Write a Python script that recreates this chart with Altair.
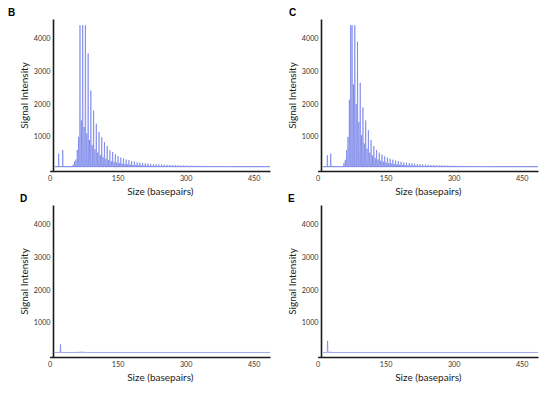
import altair as alt
import pandas as pd

# ---------------- data ----------------
# Panel B
B_LIGHT_POS = [20, 29, 55, 61, 67, 73, 79, 85, 91, 97, 103, 109, 115, 121, 127, 133, 139, 145, 151, 157,
               163, 169, 175, 181, 187, 193, 199, 205, 211, 217, 223, 229, 235, 241, 247, 253, 259, 265,
               271, 277, 283, 289, 295, 301, 307, 313, 319, 325, 331, 337, 343, 349, 355, 361, 367, 373,
               379, 385, 391, 397]
B_LIGHT_H = [490, 600, 250, 600, 4400, 4400, 4400, 3540, 2410, 1800, 1400, 1150, 990, 840, 720, 590,
             540, 470, 410, 370, 340, 310, 290, 265, 245, 225, 215, 205, 195, 185, 178, 170, 165, 160,
             155, 150, 146, 143, 140, 137, 134, 131, 128, 126, 124, 122, 120, 118, 116, 114, 112, 110,
             109, 108, 107, 106, 105, 104, 103, 102]
B_DARK_POS = [52, 58, 64, 70, 76, 82, 88, 94, 100, 106, 112, 118, 124, 130, 136, 142, 148, 154, 160,
              166, 172, 178, 184, 190, 196, 202, 208, 214, 220, 226, 232, 238, 244, 250, 256, 262, 268,
              274, 280, 286, 292, 298, 304, 310, 316, 322, 328, 334, 340, 346]
B_DARK_H = [150, 310, 1000, 1500, 1300, 1100, 900, 750, 620, 520, 440, 380, 330, 290, 260, 235, 215,
            198, 183, 170, 160, 152, 145, 139, 133, 128, 124, 120, 117, 114, 112, 110, 108, 106, 104,
            103, 102, 101, 100, 99, 99, 98, 98, 97, 97, 96, 96, 95, 95, 94]

# Panel C
C_LIGHT_POS = [21.5, 29, 58, 64, 70, 76, 82, 88, 94, 100, 106, 112, 118, 124, 130, 136, 142, 148, 154,
               160, 166, 172, 178, 184, 190, 196, 202, 208, 214, 220, 226, 232, 238, 244, 250, 256, 262,
               268, 274, 280, 286, 292, 298, 304, 310, 316, 322, 328, 334, 340, 346, 352, 358, 364, 370,
               376, 382]
C_LIGHT_H = [440, 490, 200, 600, 2130, 4400, 4400, 3900, 2650, 1900, 1500, 1200, 900, 720, 600, 520,
             460, 410, 370, 335, 305, 280, 260, 240, 225, 212, 200, 190, 180, 172, 165, 158, 153, 148,
             143, 139, 135, 132, 129, 126, 124, 122, 120, 118, 116, 114, 112, 110, 109, 108, 107, 106,
             105, 104, 103, 102, 101]
C_DARK_POS = [61, 67, 73, 79, 85, 91, 97, 103, 109, 115, 121, 127, 133, 139, 145, 151, 157, 163, 169,
              175, 181, 187, 193, 199, 205, 211, 217, 223, 229, 235, 241, 247, 253, 259, 265, 271]
C_DARK_H = [300, 1000, 4400, 2600, 2000, 1450, 1050, 800, 640, 520, 430, 360, 310, 270, 240, 218, 200,
            185, 172, 162, 152, 144, 137, 131, 126, 121, 117, 114, 111, 108, 106, 104, 102, 101, 100, 99]

# Panels D and E
D_POS = [24, 63, 69, 75, 81]
D_H = [350, 120, 125, 120, 112]
E_POS = [22, 28]
E_H = [450, 125]

BASELINE = {"B": 92, "C": 92, "D": 98, "E": 98}
TRACE_START, TRACE_END = 12, 486
SATURATION = 4400

X_TICKS = [0, 150, 300, 450]
Y_TICKS = [1000, 2000, 3000, 4000]

# ---------------- build traces ----------------
def trace(pos, heights, base, hw=0.8):
    xs, ys = [TRACE_START], [base]
    for p, h in zip(pos, heights):
        h = min(h, SATURATION)
        if h >= SATURATION:
            xs += [p - hw, p - 0.2, p + 0.2, p + hw]
            ys += [base, h, h, base]
        else:
            xs += [p - hw, p, p + hw]
            ys += [base, h, base]
    xs.append(TRACE_END)
    ys.append(base)
    return pd.DataFrame({"bp": xs, "v": ys, "i": list(range(len(xs)))})


FONT = "Lato"
W, H = 217, 152
xscale = alt.Scale(domain=[0, 486], range=[-3.4, W], nice=False, zero=False)
yscale = alt.Scale(domain=[-40, 4590], nice=False, zero=False)
common_axis = dict(ticks=False, grid=False, domainColor="#1a1a1a", domainWidth=1.6,
                   labelFont=FONT, labelFontSize=7.2, labelColor="#333333",
                   titleFont=FONT, titleFontSize=10, titleFontWeight="normal", titleColor="#222222",
                   labelFlush=False, format="d")
xaxis = alt.Axis(values=X_TICKS, title="Size (basepairs)", labelPadding=3, titlePadding=5, **common_axis)
yaxis = alt.Axis(values=Y_TICKS, title="Signal Intensity", labelPadding=3, titlePadding=4, **common_axis)

MAIN = "#6573e8"     # tall ladder trace
SECOND = "#3a4cdc"   # interleaved trace
MID = "#6b78e6"


def panel(series, letter, dx):
    layers = []
    for df, color, op in series:
        layers.append(
            alt.Chart(df).mark_line(color=color, strokeWidth=0.75, opacity=op, clip=True).encode(
                x=alt.X("bp:Q", scale=xscale, axis=xaxis),
                y=alt.Y("v:Q", scale=yscale, axis=yaxis),
                order="i:Q",
            )
        )
    return alt.layer(*layers).properties(
        width=W, height=H,
        title=alt.TitleParams(letter, anchor="start", frame="group", dx=dx, offset=-7,
                              baseline="alphabetic", fontSize=10, fontWeight="bold",
                              font="Liberation Sans", color="black"),
    )


pB = panel([(trace(B_DARK_POS, B_DARK_H, BASELINE["B"]), SECOND, 0.6),
            (trace(B_LIGHT_POS, B_LIGHT_H, BASELINE["B"]), MAIN, 0.8)], "B", -45)
pC = panel([(trace(C_DARK_POS, C_DARK_H, BASELINE["C"]), SECOND, 0.6),
            (trace(C_LIGHT_POS, C_LIGHT_H, BASELINE["C"]), MAIN, 0.8)], "C", -32)
pD = panel([(trace(D_POS, D_H, BASELINE["D"]), MID, 0.85)], "D", -33)
pE = panel([(trace(E_POS, E_H, BASELINE["E"]), MID, 0.85)], "E", -33)

chart = alt.concat(pB, pC, pD, pE, columns=2, spacing=alt.RowColnumber(row=34, column=51)).properties(
    bounds="flush",
    padding={"left": 0, "top": 0, "right": 5, "bottom": 5},
    background="white",
).configure_view(stroke=None)

chart.save("out.html", embed_options={"renderer": "svg", "actions": False})
